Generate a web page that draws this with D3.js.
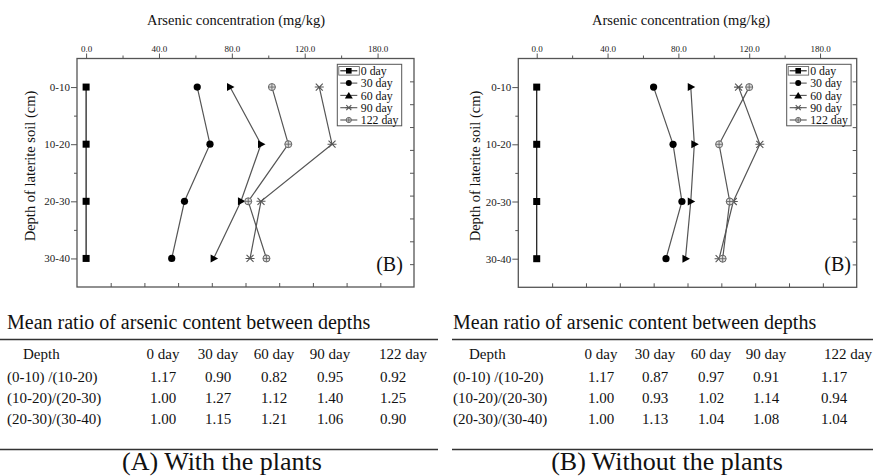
<!DOCTYPE html>
<html>
<head>
<meta charset="utf-8">
<script src="https://d3js.org/d3.v7.min.js"></script>
<style>
  body { margin: 0; background: #fff; }
  text { font-family: "Liberation Serif", "DejaVu Serif", serif; fill: #111; }
  .axis path, .axis line { stroke: #555; }
  .axis text { font-family: "Liberation Serif", serif; fill: #222; }
</style>
</head>
<body>
<svg id="chart" width="873" height="476"></svg>
<script>

// depth classes of the laterite soil (cm), plotted at their mid depth
var depthLabels = ["0-10", "10-20", "20-30", "30-40"];
var depthMid = [5, 15, 25, 35];
var dayNames = ["0 day", "30 day", "60 day", "90 day", "122 day"];

// (A) with the plants, arsenic mg/kg
var withDay0 = [0, 0, 0, 0];
var withDay30 = [61, 68, 54, 47];
var withDay60 = [79, 96, 85, 70];
var withDay90 = [128, 135, 96, 90];
var withDay122 = [102, 111, 89, 99];

// (B) without the plants
var withoutDay0 = [0, 0, 0, 0];
var withoutDay30 = [66, 77, 82, 73];
var withoutDay60 = [87, 89, 87, 84];
var withoutDay90 = [114, 126, 111, 103];
var withoutDay122 = [120, 103, 109, 105];

// top axis labels as printed (last one reads 180.0)
var xTicks = [0, 40, 80, 120, 160];
var xTickLabels = ["0.0", "40.0", "80.0", "120.0", "180.0"];

// tables
var tableHead = ["Depth", "0 day", "30 day", "60 day", "90 day", "122 day"];
var ratioRows = ["(0-10) /(10-20)", "(10-20)/(20-30)", "(20-30)/(30-40)"];
var ratiosWith = [
  ["1.17", "0.90", "0.82", "0.95", "0.92"],
  ["1.00", "1.27", "1.12", "1.40", "1.25"],
  ["1.00", "1.15", "1.21", "1.06", "0.90"]
];
var ratiosWithout = [
  ["1.17", "0.87", "0.97", "0.91", "1.17"],
  ["1.00", "0.93", "1.02", "1.14", "0.94"],
  ["1.00", "1.13", "1.04", "1.08", "1.04"]
];

var svg = d3.select("#chart");
svg.append("rect").attr("width", 873).attr("height", 476).attr("fill", "#fff");

var lineColor = ["#111", "#555", "#555", "#555", "#555"];

// marker drawers
function drawMarker(g, k, x, y, legend) {
  if (k == 0) {
    var h = legend ? 2.8 : 3.5;
    g.append("rect").attr("x", x - h).attr("y", y - h).attr("width", 2 * h).attr("height", 2 * h).attr("fill", "#000");
  } else if (k == 1) {
    g.append("circle").attr("cx", x).attr("cy", y).attr("r", legend ? 3 : 3.6).attr("fill", "#000");
  } else if (k == 2) {
    var p = legend ? [[x - 4, y + 3], [x + 4, y + 3], [x, y - 3.5]]
                   : [[x - 3, y - 4], [x - 3, y + 4], [x + 4.5, y]];
    g.append("path").attr("d", d3.line()(p) + "Z").attr("fill", "#000");
  } else if (k == 3) {
    var s = legend ? 2.5 : 3.5;
    g.append("path")
      .attr("d", "M" + (x - s) + "," + (y - s) + "L" + (x + s) + "," + (y + s) +
                 "M" + (x - s) + "," + (y + s) + "L" + (x + s) + "," + (y - s) +
                 "M" + (x - s - 1) + "," + y + "L" + (x + s + 1) + "," + y)
      .attr("stroke", "#555").attr("stroke-width", 1.1).attr("fill", "none");
  } else {
    var r = legend ? 2.6 : 3.5;
    g.append("circle").attr("cx", x).attr("cy", y).attr("r", r).attr("fill", "#ddd").attr("stroke", "#666").attr("stroke-width", 1);
    g.append("path").attr("d", "M" + (x - r) + "," + y + "L" + (x + r) + "," + y + "M" + x + "," + (y - r) + "L" + x + "," + (y + r))
      .attr("stroke", "#666").attr("stroke-width", 0.9);
  }
}

function drawPanel(p) {
  var g = svg.append("g");
  var x = d3.scaleLinear().domain(p.xDomain).range([p.left, p.right]);
  var xFrame = d3.scaleLinear().domain([0, 200]).range([p.left, p.right]);
  var y = d3.scaleLinear().domain([0, 40]).range([p.top, p.bottom]);

  // frame
  g.append("rect").attr("x", p.left).attr("y", p.top)
    .attr("width", p.right - p.left).attr("height", p.bottom - p.top)
    .attr("fill", "none").attr("stroke", "#555").attr("stroke-width", 1.3);

  // top axis
  g.append("g").attr("class", "axis").attr("transform", "translate(0," + p.top + ")")
    .call(d3.axisTop(x).tickValues(xTicks).tickFormat(function (d, i) { return xTickLabels[i]; })
      .tickSize(5).tickPadding(2))
    .call(function (a) { a.select(".domain").remove(); a.selectAll("text").attr("font-size", 9); });
  g.append("g").attr("class", "axis").attr("transform", "translate(0," + p.top + ")")
    .call(d3.axisTop(x).tickValues([20, 60, 100, 140]).tickFormat("").tickSize(3))
    .call(function (a) { a.select(".domain").remove(); });

  // bottom axis, inward ticks, no labels
  g.append("g").attr("class", "axis").attr("transform", "translate(0," + p.bottom + ")")
    .call(d3.axisBottom(xFrame).tickValues(d3.range(20, 200, 20)).tickFormat("").tickSize(-4))
    .call(function (a) { a.select(".domain").remove(); });

  // left axis
  g.append("g").attr("class", "axis").attr("transform", "translate(" + p.left + ",0)")
    .call(d3.axisLeft(y).tickValues(depthMid).tickFormat(function (d, i) { return depthLabels[i]; })
      .tickSize(6).tickPadding(1))
    .call(function (a) { a.select(".domain").remove(); a.selectAll("text").attr("font-size", 11); });
  g.append("g").attr("class", "axis").attr("transform", "translate(" + p.left + ",0)")
    .call(d3.axisLeft(y).tickValues([10, 20, 30]).tickFormat("").tickSize(3))
    .call(function (a) { a.select(".domain").remove(); });

  // right axis
  g.append("g").attr("class", "axis").attr("transform", "translate(" + p.right + ",0)")
    .call(d3.axisRight(y).tickValues(d3.range(4, 40, 4)).tickFormat("").tickSize(-4))
    .call(function (a) { a.select(".domain").remove(); });

  // titles
  g.append("text").attr("x", p.titleX).attr("y", 25).attr("text-anchor", "middle")
    .attr("font-size", 14.5).text("Arsenic concentration (mg/kg)");
  g.append("text").attr("transform", "translate(" + p.yTitleX + "," + p.yTitleY + ") rotate(-90)")
    .attr("dy", "0.35em").attr("text-anchor", "middle").attr("font-size", 14.5)
    .text("Depth of laterite soil (cm)");

  // series
  var line = d3.line().x(function (d) { return x(d[0]); }).y(function (d) { return y(d[1]); });
  p.series.forEach(function (vals, k) {
    var pts = vals.map(function (v, i) { return [v, depthMid[i]]; });
    g.append("path").attr("d", line(pts)).attr("fill", "none")
      .attr("stroke", lineColor[k]).attr("stroke-width", 1.2);
  });
  p.series.forEach(function (vals, k) {
    vals.forEach(function (v, i) { drawMarker(g, k, x(v), y(depthMid[i]), false); });
  });

  // legend
  var lg = g.append("g");
  lg.append("rect").attr("x", p.legX).attr("y", p.legY).attr("width", 64.4).attr("height", 61.5)
    .attr("fill", "#fff").attr("stroke", "#555").attr("stroke-width", 1);
  lg.append("rect").attr("x", p.legX + 1.5).attr("y", p.legY + 2.3).attr("width", 20.5).attr("height", 8.5)
    .attr("fill", "none").attr("stroke", "#555").attr("stroke-width", 0.8);
  dayNames.forEach(function (name, k) {
    var ly = p.legY + 6.5 + k * 12.3;
    lg.append("line").attr("x1", p.legX + 3).attr("x2", p.legX + 20).attr("y1", ly).attr("y2", ly)
      .attr("stroke", lineColor[k]).attr("stroke-width", 1.1);
    drawMarker(lg, k, p.legX + 11.5, ly, true);
    lg.append("text").attr("x", p.legX + 23.5).attr("y", ly).attr("dy", "0.35em")
      .attr("font-size", 11.8).text(name);
  });

  // panel tag
  g.append("text").attr("x", p.tagX).attr("y", 271).attr("text-anchor", "middle")
    .attr("font-size", 20).text("(B)");

  // table
  var t = svg.append("g");
  t.append("text").attr("x", p.tabTextX).attr("y", 329).attr("font-size", 20)
    .text("Mean ratio of arsenic content between depths");
  t.append("line").attr("x1", p.ruleX1).attr("x2", p.ruleX2).attr("y1", 339.5).attr("y2", 339.5)
    .attr("stroke", "#333").attr("stroke-width", 1.6);
  t.append("line").attr("x1", p.ruleX1).attr("x2", p.ruleX2).attr("y1", 449.5).attr("y2", 449.5)
    .attr("stroke", "#333").attr("stroke-width", 1.6);
  var rowY = [358.5, 382, 403, 424];
  t.append("text").attr("x", p.tabTextX + 16).attr("y", rowY[0]).attr("font-size", 15).text(tableHead[0]);
  tableHead.slice(1).forEach(function (h, j) {
    t.append("text").attr("x", p.colX[j] + (j == 4 ? p.lastHeadShift : 0)).attr("y", rowY[0])
      .attr("text-anchor", "middle").attr("font-size", 15).text(h);
  });
  ratioRows.forEach(function (r, i) {
    t.append("text").attr("x", p.tabTextX).attr("y", rowY[i + 1]).attr("font-size", 15).text(r);
    p.ratios[i].forEach(function (v, j) {
      t.append("text").attr("x", p.colX[j]).attr("y", rowY[i + 1])
        .attr("text-anchor", "middle").attr("font-size", 15).text(v);
    });
  });
  t.append("text").attr("x", p.capX).attr("y", 470).attr("text-anchor", "middle")
    .attr("font-size", 26).text(p.caption);
}

drawPanel({
  left: 77, right: 414, top: 58.5, bottom: 287, xDomain: [-5, 180],
  titleX: 236, yTitleX: 30, yTitleY: 166,
  legX: 337.3, legY: 64.3, tagX: 389.5,
  series: [withDay0, withDay30, withDay60, withDay90, withDay122],
  tabTextX: 7, ruleX1: 0, ruleX2: 438, colX: [163, 218, 274, 330, 393], lastHeadShift: 10,
  ratios: ratiosWith, capX: 222, caption: "(A) With the plants"
});

drawPanel({
  left: 518.3, right: 856.7, top: 58.5, bottom: 287.3, xDomain: [-10.4, 180.7],
  titleX: 681, yTitleX: 475, yTitleY: 166,
  legX: 786.7, legY: 64.3, tagX: 837.7,
  series: [withoutDay0, withoutDay30, withoutDay60, withoutDay90, withoutDay122],
  tabTextX: 453, ruleX1: 452, ruleX2: 873, colX: [601, 655, 711, 766, 834], lastHeadShift: 14,
  ratios: ratiosWithout, capX: 667, caption: "(B) Without the plants"
});

</script>
</body>
</html>
